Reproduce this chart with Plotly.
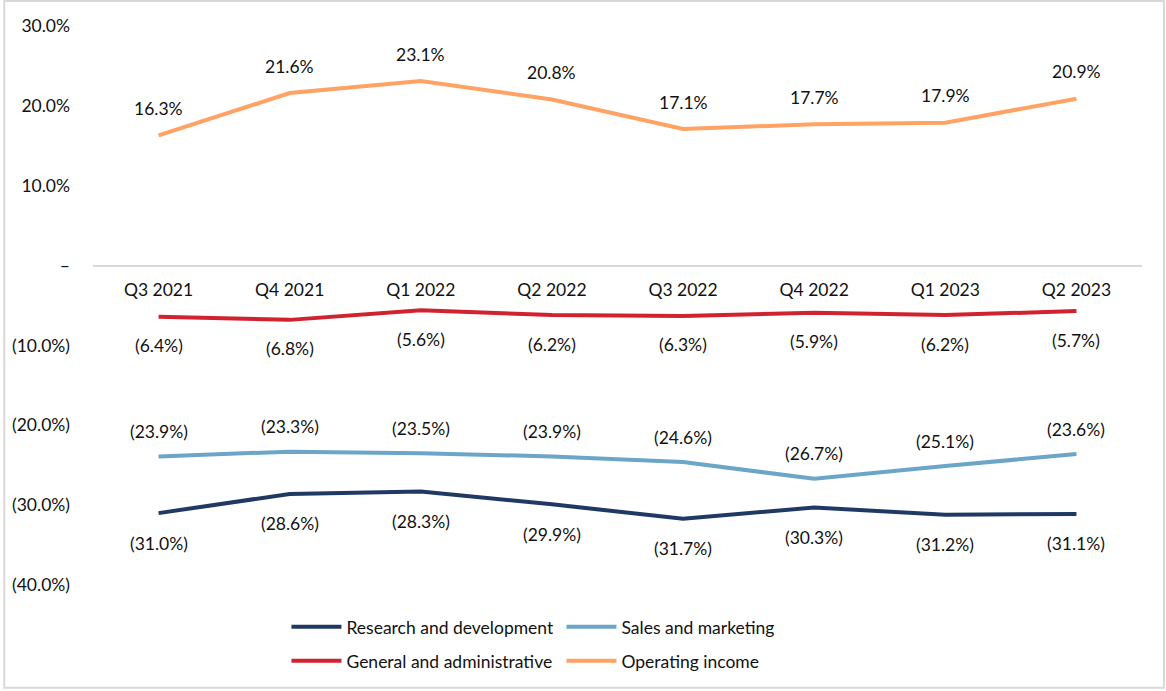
import plotly.graph_objects as go

quarters = ["Q3 2021", "Q4 2021", "Q1 2022", "Q2 2022", "Q3 2022", "Q4 2022", "Q1 2023", "Q2 2023"]
research_dev = [-31.0, -28.6, -28.3, -29.9, -31.7, -30.3, -31.2, -31.1]
sales_marketing = [-23.9, -23.3, -23.5, -23.9, -24.6, -26.7, -25.1, -23.6]
general_admin = [-6.4, -6.8, -5.6, -6.2, -6.3, -5.9, -6.2, -5.7]
operating_income = [16.3, 21.6, 23.1, 20.8, 17.1, 17.7, 17.9, 20.9]
y_tick_vals = [30, 20, 10, 0, -10, -20, -30, -40]
y_tick_text = ["30.0%", "20.0%", "10.0%", "–", "(10.0%)", "(20.0%)", "(30.0%)", "(40.0%)"]

FONT = "Lato"
FS = 17.5
TXT = "#111111"
W, H = 1166, 691
ML, MR, MT, MB = 90, 24, 26, 105
PW, PH = W - ML - MR, H - MT - MB

def fmt(v):
    return f"({abs(v):.1f}%)" if v < 0 else f"{v:.1f}%"

series = [
    ("Research and development", research_dev, "#1F3864", -30, "legend"),
    ("Sales and marketing", sales_marketing, "#6BA5C7", 25, "legend"),
    ("General and administrative", general_admin, "#D0222F", -29, "legend2"),
    ("Operating income", operating_income, "#FFA263", 27, "legend2"),
]

fig = go.Figure()
annotations = []
for name, vals, color, shift, leg in series:
    fig.add_trace(go.Scatter(x=quarters, y=vals, mode="lines", name=name,
                             line=dict(color=color, width=4), legend=leg))
    for q, v in zip(quarters, vals):
        annotations.append(dict(x=q, y=v, text=fmt(v), showarrow=False, yshift=shift,
                                font=dict(family=FONT, size=FS, color=TXT)))

y_min, y_max = -40, 30
legend_common = dict(orientation="h", x=(284 - ML) / PW, xanchor="left", yanchor="middle",
                     entrywidth=210, itemwidth=50,
                     font=dict(family=FONT, size=FS, color=TXT), bgcolor="rgba(0,0,0,0)")
fig.update_layout(
    width=W, height=H,
    margin=dict(l=ML, r=MR, t=MT, b=MB),
    paper_bgcolor="white", plot_bgcolor="white",
    font=dict(family=FONT, size=FS, color=TXT),
    xaxis=dict(range=[-0.5, 7.5], showgrid=False, showline=True, linecolor="#d9d9d9", linewidth=2,
               anchor="free", position=(0 - y_min) / (y_max - y_min), ticks="",
               ticklabelstandoff=8, tickfont=dict(family=FONT, size=FS, color=TXT)),
    yaxis=dict(range=[y_min, y_max], showgrid=False, zeroline=False, showline=False,
               tickvals=y_tick_vals, ticktext=y_tick_text, ticklabelstandoff=22,
               tickfont=dict(family=FONT, size=FS, color=TXT)),
    annotations=annotations,
    legend=dict(legend_common, y=-(628 - (MT + PH)) / PH),
    legend2=dict(legend_common, y=-(662 - (MT + PH)) / PH),
    shapes=[dict(type="rect", xref="paper", yref="paper",
                 x0=(1 - ML) / PW, x1=(W - 2 - ML) / PW,
                 y0=(PH + MT - (H - 2)) / PH, y1=(PH + MT - 1) / PH,
                 line=dict(color="#d9d9d9", width=2), fillcolor="rgba(0,0,0,0)", layer="below")],
)

fig.write_html("out.html", config={"displayModeBar": False},
               post_script="document.body.style.margin='0';document.body.style.overflow='hidden';")
